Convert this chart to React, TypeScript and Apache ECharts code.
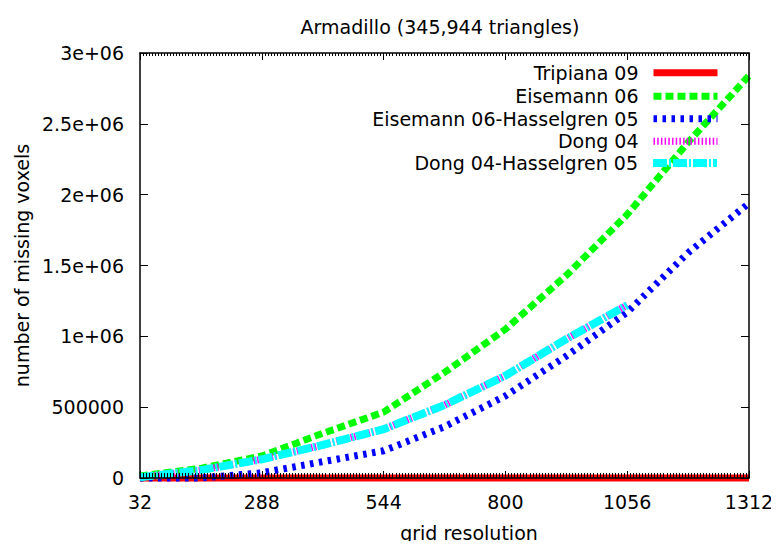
import React, { useEffect, useRef } from "react";
import * as echarts from "echarts";

const gridResolution = [32, 160, 288, 416, 544, 672, 800, 928, 1056, 1184, 1312];
const tripiana09 = [0, 0, 0, 0, 0, 0, 0, 0, 0, 0, 0];
const eisemann06 = [14000, 68000, 155000, 315000, 465000, 745000, 1050000, 1430000, 1860000, 2370000, 2840000];
const eisemannHasselgren = [0, 0, 37000, 115000, 192000, 362000, 579000, 861000, 1170000, 1590000, 1940000];
const dong04 = [5000, 56000, 132000, 233000, 345000, 515000, 722000, 981000, 1220000];
const dongHasselgren = [5000, 56000, 132000, 233000, 345000, 515000, 722000, 981000, 1220000];

const seriesNames = [
  "Tripiana 09",
  "Eisemann 06",
  "Eisemann 06-Hasselgren 05",
  "Dong 04",
  "Dong 04-Hasselgren 05",
];
const xTickLabels = ["32", "288", "544", "800", "1056", "1312"];
const yTickLabels = ["0", "500000", "1e+06", "1.5e+06", "2e+06", "2.5e+06", "3e+06"];

const FONT = "DejaVu Sans";

const pairs = (ys: number[]) => ys.map((y, i) => [gridResolution[i], y]);

export default function App() {
  const ref = useRef<HTMLDivElement>(null);
  useEffect(() => {
    if (!ref.current) return;
    const chart = echarts.init(ref.current, null, { renderer: "svg" });
    const colors = ["#ff0000", "#00ff00", "#0000ff", "#ff00ff", "#00ffff"];
    const dashes: any[] = ["solid", [8, 4], [3.5, 5.5], [1.5, 2.2], [14, 2, 2, 2]];
    const widths = [7, 7, 7, 7, 8];
    const datasets = [tripiana09, eisemann06, eisemannHasselgren, dong04, dongHasselgren];
    const rowCenters = [73.3, 96.7, 119.3, 141.7, 163.5];

    const tickStyle = { color: "#000", width: 1 };
    const baseX = {
      type: "value",
      min: 32,
      max: 1312,
      interval: 256,
      splitLine: { show: false },
      axisLine: { show: true, onZero: false, lineStyle: { color: "#000", width: 1.5 } },
      axisTick: { show: true, inside: true, length: 7, lineStyle: tickStyle },
      z: 10,
    };
    const fineX = {
      type: "value",
      min: 32,
      max: 1312,
      interval: 6.4,
      splitLine: { show: false },
      axisLine: { show: false, onZero: false },
      axisLabel: { show: false },
      z: 10,
    };
    const baseY = {
      type: "value",
      min: 0,
      max: 3000000,
      interval: 500000,
      splitLine: { show: false },
      axisLine: { show: true, onZero: false, lineStyle: { color: "#000", width: 1.5 } },
      axisTick: { show: true, inside: true, length: 8, lineStyle: tickStyle },
      z: 10,
    };

    chart.setOption({
      animation: false,
      backgroundColor: "#fff",
      title: {
        text: "Armadillo (345,944 triangles)",
        left: 440,
        top: 17,
        textAlign: "center",
        padding: 0,
        textStyle: { fontFamily: FONT, fontSize: 19, fontWeight: "normal", color: "#000" },
      },
      grid: { left: 140, right: 30, top: 53, bottom: 71, containLabel: false },
      legend: seriesNames.map((name, i) => ({
        data: [name],
        right: 58,
        top: rowCenters[i] - 10,
        orient: "horizontal",
        align: "right",
        padding: 0,
        itemWidth: 64,
        itemHeight: 20,
        selectedMode: false,
        itemStyle: { opacity: 0, borderWidth: 0 },
        lineStyle: { width: widths[i], opacity: 1 },
        textStyle: {
          fontFamily: FONT,
          fontSize: 19,
          color: "#000",
          padding: [0, 10, 0, 0],
        },
      })),
      xAxis: [
        {
          ...baseX,
          position: "bottom",
          axisLabel: {
            color: "#000",
            fontFamily: FONT,
            fontSize: 19,
            margin: 14,
            formatter: (v: number) => xTickLabels[Math.round((v - 32) / 256)] ?? "",
          },
          name: "grid resolution",
          nameLocation: "middle",
          nameGap: 45,
          nameTextStyle: { color: "#000", fontFamily: FONT, fontSize: 19, padding: [0, 0, 0, 49] },
        },
        {
          ...fineX,
          position: "top",
          axisTick: { show: true, inside: true, length: 3, lineStyle: { color: "#000", width: 1 } },
        },
        {
          ...fineX,
          position: "bottom",
          axisTick: { show: true, inside: true, length: 5, lineStyle: { color: "#000", width: 1 } },
        },
        {
          ...baseX,
          position: "top",
          axisLabel: { show: false },
        },
      ],
      yAxis: [
        {
          ...baseY,
          position: "left",
          axisLabel: {
            color: "#000",
            fontFamily: FONT,
            fontSize: 19,
            margin: 16,
            formatter: (v: number) => yTickLabels[Math.round(v / 500000)] ?? "",
          },
          name: "number of missing voxels",
          nameLocation: "middle",
          nameGap: 104,
          nameRotate: 90,
          nameTextStyle: { color: "#000", fontFamily: FONT, fontSize: 19 },
        },
        {
          ...baseY,
          position: "right",
          axisLabel: { show: false },
        },
      ],
      series: seriesNames.map((name, i) => ({
        name,
        type: "line",
        xAxisIndex: 0,
        yAxisIndex: 0,
        symbol: "none",
        clip: false,
        color: colors[i],
        lineStyle: { color: colors[i], width: widths[i], type: dashes[i], cap: "butt", join: "miter" },
        data: pairs(datasets[i]),
        z: 2 + i,
      })),
    });
    return () => chart.dispose();
  }, []);
  return <div ref={ref} style={{ width: 779, height: 549, margin: -8 }} />;
}
